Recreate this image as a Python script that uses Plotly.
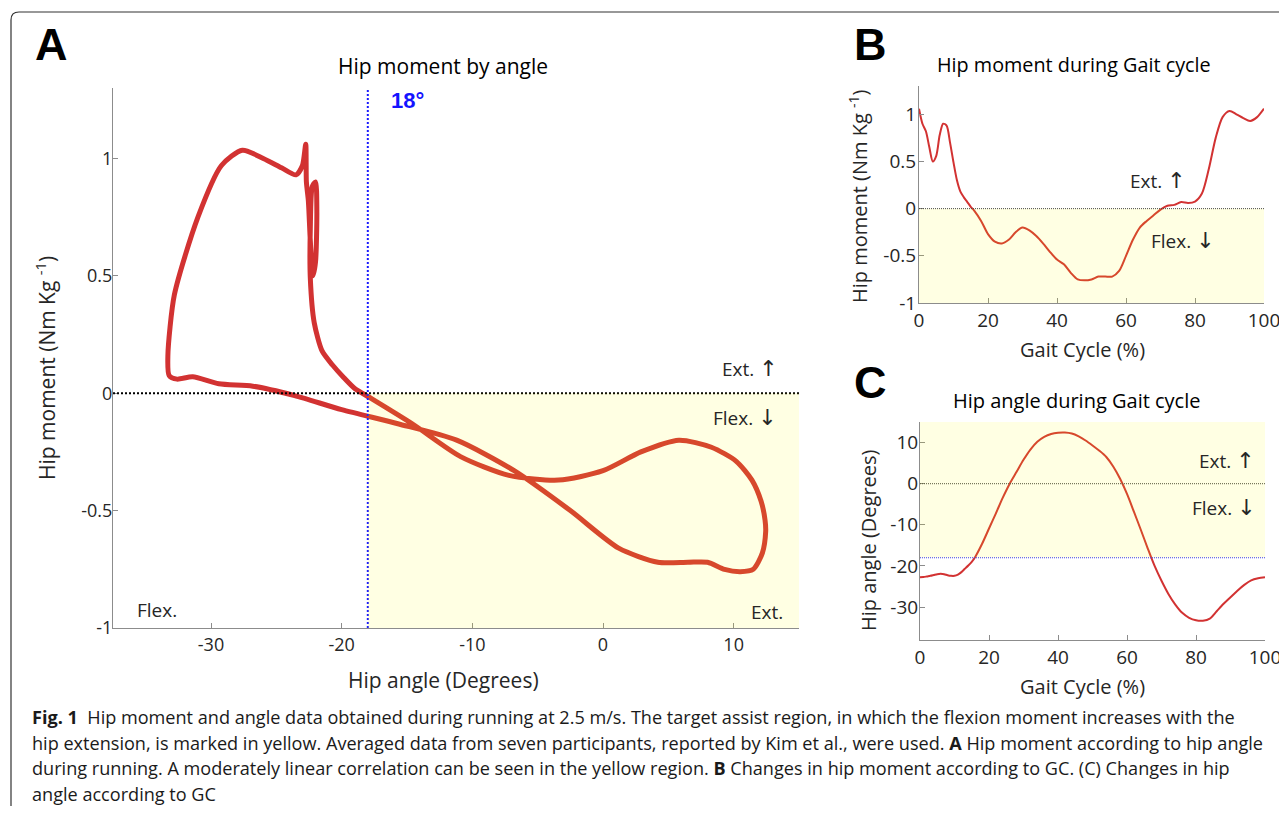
import plotly.graph_objects as go

# page has an 8px body margin, so the figure is placed at (8, 8)
OX, OY = 8, 8
W, H = 1279, 798

# ---------------- data ----------------
gait_cycle = [0, 1, 2, 3, 4, 5, 6, 7, 8, 9, 10, 11, 12, 13, 14, 15, 16, 18, 20, 22, 24, 26, 28, 30,
              32, 34, 36, 38, 40, 42, 44, 46, 48, 50, 52, 54, 56, 58, 60, 62, 64, 66, 68, 70, 72,
              74, 76, 78, 80, 82, 84, 86, 88, 90, 92, 94, 96, 98, 100]
hip_moment = [1.06, 0.90, 0.82, 0.65, 0.50, 0.56, 0.78, 0.90, 0.88, 0.70, 0.49, 0.30, 0.18, 0.12,
              0.07, 0.02, -0.02, -0.13, -0.27, -0.35, -0.37, -0.33, -0.25, -0.20, -0.23, -0.29,
              -0.37, -0.46, -0.54, -0.59, -0.68, -0.75, -0.76, -0.75, -0.72, -0.72, -0.72, -0.66,
              -0.50, -0.33, -0.20, -0.13, -0.07, -0.01, 0.03, 0.04, 0.07, 0.06, 0.075, 0.16, 0.42,
              0.75, 0.97, 1.035, 1.00, 0.96, 0.93, 0.97, 1.06]
hip_angle = [-22.75, -22.7, -22.55, -22.4, -22.2, -22.0, -21.9, -22.0, -22.25, -22.4, -22.4, -22.1,
             -21.5, -20.7, -19.9, -19.0, -17.8, -14.6, -10.9, -7.2, -3.4, 0.0, 2.9, 5.8, 8.3, 10.2,
             11.4, 12.1, 12.4, 12.45, 12.2, 11.5, 10.5, 9.3, 8.0, 6.5, 4.2, 1.2, -2.5, -6.8, -11.2,
             -15.7, -20.0, -23.6, -26.8, -29.4, -31.4, -32.6, -33.2, -33.3, -32.8, -31.0, -29.2,
             -27.6, -26.0, -24.6, -23.5, -23.0, -22.75]
assist_angle = -18

a_xticks = [-30, -20, -10, 0, 10]
a_xticktext = ["-30", "-20", "-10", "0", "10"]
moment_ticks = [-1, -0.5, 0, 0.5, 1]
moment_ticktext = ["-1", "-0.5", "0", "0.5", "1"]
gc_ticks = [0, 20, 40, 60, 80, 100]
gc_ticktext = ["0", "20", "40", "60", "80", "100"]
c_yticks = [-30, -20, -10, 0, 10]
c_yticktext = ["-30", "-20", "-10", "0", "10"]

caption_lines = [
    "<b>Fig. 1</b>  Hip moment and angle data obtained during running at 2.5 m/s. The target assist region, in which the flexion moment increases with the",
    "hip extension, is marked in yellow. Averaged data from seven participants, reported by Kim et al., were used. <b>A</b> Hip moment according to hip angle",
    "during running. A moderately linear correlation can be seen in the yellow region. <b>B</b> Changes in hip moment according to GC. (C) Changes in hip",
    "angle according to GC",
]

# ---------------- helpers ----------------
def px(x):
    return (x - OX) / W

def py(y):
    return 1 - (y - OY) / H

FONT = "Open Sans, Noto Sans, sans-serif"
TXT = "#262626"
AX = "#8c8c8c"
RED = "#d23232"
YEL = "rgba(255,255,0,0.11)"
UP = "<span style='font-family:DejaVu Sans;font-size:22px'>↑</span>"
DOWN = "<span style='font-family:DejaVu Sans;font-size:22px'>↓</span>"

fig = go.Figure()

fig.add_trace(go.Scatter(x=hip_angle, y=hip_moment, mode="lines", xaxis="x", yaxis="y",
                         line=dict(color=RED, width=5, shape="spline", smoothing=0.7),
                         showlegend=False))
fig.add_trace(go.Scatter(x=gait_cycle, y=hip_moment, mode="lines", xaxis="x2", yaxis="y2",
                         line=dict(color=RED, width=2, shape="spline", smoothing=0.8),
                         showlegend=False))
fig.add_trace(go.Scatter(x=gait_cycle, y=hip_angle, mode="lines", xaxis="x3", yaxis="y3",
                         line=dict(color=RED, width=2, shape="spline", smoothing=0.8),
                         showlegend=False))

def axis_style(domain, rng, tickvals, ticktext, anchor, size=18, standoff=0):
    return dict(domain=domain, range=rng, tickvals=tickvals, ticktext=ticktext, anchor=anchor,
                showline=True, linecolor=AX, linewidth=1, ticks="inside", ticklen=5,
                tickcolor=AX, showgrid=False, zeroline=False, automargin=False,
                ticklabelstandoff=standoff,
                tickfont=dict(family=FONT, size=size, color=TXT), mirror=False)

fig.update_layout(
    width=W, height=H, margin=dict(l=0, r=0, t=0, b=0),
    paper_bgcolor="white", plot_bgcolor="rgba(0,0,0,0)", showlegend=False,
    xaxis=axis_style([px(113), px(799)], [-37.5, 15], a_xticks, a_xticktext, "y"),
    yaxis=axis_style([py(628), py(88)], [-1, 1.3], moment_ticks, moment_ticktext, "x", standoff=-4),
    xaxis2=axis_style([px(919), px(1264)], [0, 100], gc_ticks, gc_ticktext, "y2", size=19),
    yaxis2=axis_style([py(303), py(86)], [-1, 1.3], moment_ticks, moment_ticktext, "x2", size=19, standoff=-2),
    xaxis3=axis_style([px(920), px(1265)], [0, 100], gc_ticks, gc_ticktext, "y3", size=19),
    yaxis3=axis_style([py(640), py(422)], [-38, 15], c_yticks, c_yticktext, "x3", size=19, standoff=-3),
)

shapes = []
shapes.append(dict(type="line", xref="x", yref="y", x0=-37.5, x1=15, y0=0, y1=0,
                   line=dict(color="black", width=2, dash="2px,2px")))
shapes.append(dict(type="line", xref="x", yref="y", x0=assist_angle, x1=assist_angle, y0=-1, y1=1.3,
                   line=dict(color="#1a1aff", width=2, dash="2px,2px")))
shapes.append(dict(type="line", xref="x2", yref="y2", x0=0, x1=100, y0=0, y1=0,
                   line=dict(color="#444444", width=1, dash="1px,1px")))
shapes.append(dict(type="line", xref="x3", yref="y3", x0=0, x1=100, y0=0, y1=0,
                   line=dict(color="#444444", width=1, dash="1px,1px")))
shapes.append(dict(type="line", xref="x3", yref="y3", x0=0, x1=100, y0=assist_angle, y1=assist_angle,
                   line=dict(color="#3333ff", width=1, dash="1px,1px")))
shapes.append(dict(type="rect", xref="x", yref="y", x0=assist_angle, x1=15, y0=-1, y1=0,
                   fillcolor=YEL, line=dict(width=0), layer="above"))
shapes.append(dict(type="rect", xref="x2", yref="y2", x0=0, x1=100, y0=-1, y1=0,
                   fillcolor=YEL, line=dict(width=0), layer="above"))
shapes.append(dict(type="rect", xref="x3", yref="y3", x0=0, x1=100, y0=assist_angle, y1=15,
                   fillcolor=YEL, line=dict(width=0), layer="above"))
path = (f"M {px(11)},{py(808)} L {px(11)},{py(20)} Q {px(11)},{py(12)} {px(19)},{py(12)} "
        f"L {px(1290)},{py(12)}")
shapes.append(dict(type="path", xref="paper", yref="paper", path=path,
                   line=dict(color="#333333", width=1.2)))
fig.update_layout(shapes=shapes)

ann = []
def text(x, y, s, size=19, color=TXT, family=FONT, xanchor="center", angle=0, yanchor="middle"):
    ann.append(dict(x=px(x), y=py(y), xref="paper", yref="paper", text=s, showarrow=False,
                    font=dict(family=family, size=size, color=color), xanchor=xanchor,
                    yanchor=yanchor, textangle=angle))

BOLD = "Liberation Sans, Arial, sans-serif"
text(52, 45, "<b>A</b>", size=45, color="black", family=BOLD)
text(870, 45, "<b>B</b>", size=45, color="black", family=BOLD)
text(870, 382, "<b>C</b>", size=45, color="black", family=BOLD)
text(443, 66, "Hip moment by angle", size=21, color="black")
text(1074, 65, "Hip moment during Gait cycle", size=19.8, color="black")
text(1076, 401, "Hip angle during Gait cycle", size=20, color="black")
text(443, 680, "Hip angle (Degrees)", size=21)
text(45, 368, "Hip moment (Nm Kg <sup>-1</sup>)", size=21, angle=-90)
text(1082, 349, "Gait Cycle (%)", size=20)
text(858, 196, "Hip moment (Nm Kg <sup>-1</sup>)", size=20, angle=-90)
text(1082, 686, "Gait Cycle (%)", size=20)
text(868, 540, "Hip angle (Degrees)", size=20, angle=-90)
text(407, 100, "<b>18°</b>", size=22, color="#1414ff", family=BOLD)
text(750, 369, "Ext. " + UP, size=19)
text(745, 418, "Flex. " + DOWN, size=19)
text(157, 610, "Flex.", size=19)
text(767, 612, "Ext.", size=19)
text(1158, 181, "Ext. " + UP, size=19)
text(1183, 241, "Flex. " + DOWN, size=19)
text(1227, 461, "Ext. " + UP, size=19)
text(1224, 508, "Flex. " + DOWN, size=19)
for i, line in enumerate(caption_lines):
    text(30, 717 + i * 25.5, line, size=18.1, color="#1a1a1a", family=FONT, xanchor="left")

fig.update_layout(annotations=ann)
fig.write_html("out.html")
